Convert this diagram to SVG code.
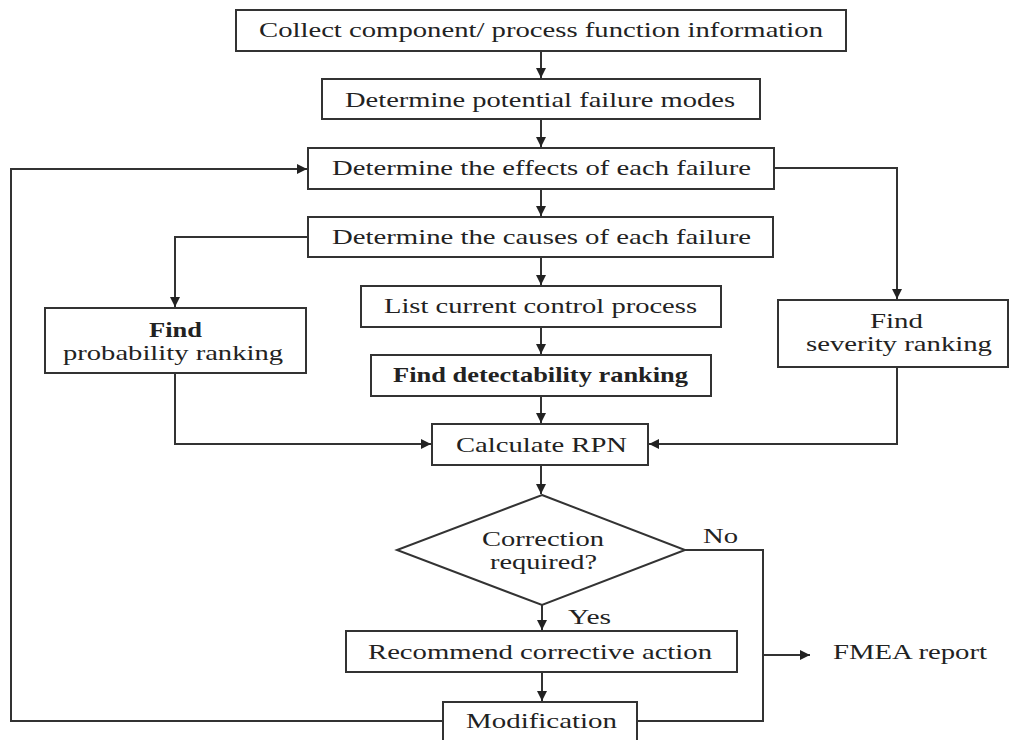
<svg xmlns="http://www.w3.org/2000/svg" width="1012" height="740" viewBox="0 0 1012 740">
<defs>
<marker id="ah" viewBox="0 0 10 10" refX="10" refY="5" markerWidth="10" markerHeight="10" markerUnits="userSpaceOnUse" orient="auto">
<path d="M0,0 L10,5 L0,10 z" fill="#222"/>
</marker>
<style>
.box{fill:#fff;stroke:#333;stroke-width:2}
.t{font-family:"Liberation Serif","Times New Roman",serif;font-size:22px;fill:#222}
.b{font-weight:bold}
.c{fill:none;stroke:#333;stroke-width:2}
.a{fill:none;stroke:#333;stroke-width:2;marker-end:url(#ah)}
</style>
</defs>
<rect width="1012" height="740" fill="#fff"/>
<g id="connectors">
<path class="a" d="M541,51 V78"/>
<path class="a" d="M541,119 V147"/>
<path class="a" d="M541,189 V216"/>
<path class="a" d="M541,257 V285"/>
<path class="a" d="M541,327 V354"/>
<path class="a" d="M541,396 V423"/>
<path class="a" d="M541,465 V494"/>
<path class="a" d="M308,237 H175 V307"/>
<path class="a" d="M774,168 H897 V299"/>
<path class="a" d="M175,373 V444 H431"/>
<path class="a" d="M897,367 V444 H649"/>
<path class="a" d="M542,605 V630"/>
<path class="a" d="M542,672 V701"/>
<path class="c" d="M685,550 H763 V721 H637"/>
<path class="a" d="M763,655 H810"/>
<path class="a" d="M443,721 H11 V169 H307"/>
</g>
<g id="n1"><rect class="box" x="236" y="10" width="610" height="41"/><text class="t" x="259" y="37" textLength="564" lengthAdjust="spacingAndGlyphs">Collect component/ process function information</text></g>
<g id="n2"><rect class="box" x="322" y="79" width="438" height="40"/><text class="t" x="345" y="107" textLength="390" lengthAdjust="spacingAndGlyphs">Determine potential failure modes</text></g>
<g id="n3"><rect class="box" x="308" y="148" width="466" height="41"/><text class="t" x="332" y="175" textLength="419" lengthAdjust="spacingAndGlyphs">Determine the effects of each failure</text></g>
<g id="n4"><rect class="box" x="308" y="217" width="465" height="40"/><text class="t" x="332" y="244" textLength="419" lengthAdjust="spacingAndGlyphs">Determine the causes of each failure</text></g>
<g id="n5"><rect class="box" x="361" y="286" width="360" height="41"/><text class="t" x="384" y="313" textLength="313" lengthAdjust="spacingAndGlyphs">List current control process</text></g>
<g id="n6"><rect class="box" x="371" y="355" width="340" height="41"/><text class="t b" x="393" y="382" textLength="295" lengthAdjust="spacingAndGlyphs">Find detectability ranking</text></g>
<g id="n7"><rect class="box" x="45" y="308" width="261" height="65"/><text class="t b" x="149" y="337" textLength="53" lengthAdjust="spacingAndGlyphs">Find</text><text class="t" x="63" y="360" textLength="220" lengthAdjust="spacingAndGlyphs">probability ranking</text></g>
<g id="n8"><rect class="box" x="778" y="300" width="230" height="67"/><text class="t" x="870" y="328" textLength="53" lengthAdjust="spacingAndGlyphs">Find</text><text class="t" x="806" y="351" textLength="186" lengthAdjust="spacingAndGlyphs">severity ranking</text></g>
<g id="n9"><rect class="box" x="432" y="424" width="216" height="41"/><text class="t" x="456" y="452" textLength="171" lengthAdjust="spacingAndGlyphs">Calculate RPN</text></g>
<g id="n10"><polygon class="box" points="542,495 685,550 542,605 397,550"/><text class="t" x="482" y="546" textLength="122" lengthAdjust="spacingAndGlyphs">Correction</text><text class="t" x="490" y="569" textLength="107" lengthAdjust="spacingAndGlyphs">required?</text></g>
<g id="n11"><rect class="box" x="346" y="631" width="391" height="41"/><text class="t" x="368" y="659" textLength="344" lengthAdjust="spacingAndGlyphs">Recommend corrective action</text></g>
<g id="n12"><rect class="box" x="443" y="702" width="194" height="46"/><text class="t" x="466" y="728" textLength="151" lengthAdjust="spacingAndGlyphs">Modification</text></g>
<g id="labels">
<text class="t" x="703" y="543" textLength="35" lengthAdjust="spacingAndGlyphs">No</text>
<text class="t" x="568" y="624" textLength="43" lengthAdjust="spacingAndGlyphs">Yes</text>
<text class="t" x="833" y="659" textLength="154" lengthAdjust="spacingAndGlyphs">FMEA report</text>
</g>
</svg>
